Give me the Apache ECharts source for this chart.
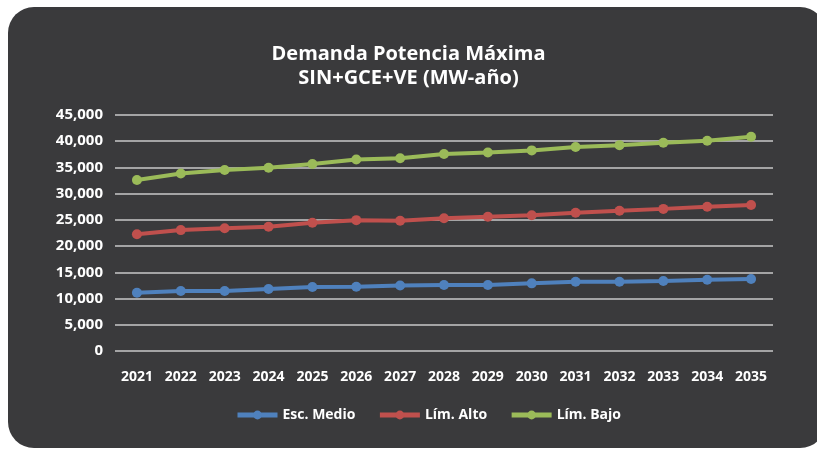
<!DOCTYPE html>
<html>
<head>
<meta charset="utf-8">
<script src="https://cdn.jsdelivr.net/npm/echarts@6/dist/echarts.min.js"></script>
<style>
  html, body { margin: 0; padding: 0; background: #fff; overflow: hidden; }
  .panel {
    position: absolute; left: 8px; top: 7px; width: 818px; height: 441px;
    background: #3a3a3c; border-radius: 26px;
  }
  #chart { position: absolute; left: 0; top: 0; width: 817px; height: 449px; }
</style>
</head>
<body>
<div class="panel"></div>
<div id="chart"></div>
<script>
// años
const years = ['2021', '2022', '2023', '2024', '2025', '2026', '2027', '2028',
  '2029', '2030', '2031', '2032', '2033', '2034', '2035']

// MW-año
const escMedio = [11120, 11440, 11440, 11820, 12200, 12260, 12500, 12580,
  12580, 12900, 13200, 13200, 13350, 13600, 13730]
const limAlto = [22250, 23050, 23400, 23700, 24450, 24950, 24850, 25300,
  25600, 25900, 26370, 26750, 27100, 27500, 27840]
const limBajo = [32600, 33850, 34500, 34950, 35650, 36500, 36750, 37550,
  37850, 38250, 38900, 39250, 39700, 40100, 40850]

const yTicks = { min: 0, max: 45000, interval: 5000 }

const font = '"Open Sans", sans-serif'

function lineSeries(name, data, color) {
  return {
    name: name,
    type: 'line',
    data: data,
    symbol: 'circle',
    symbolSize: 10,
    color: color,
    lineStyle: { width: 4, color: color },
    itemStyle: { color: color }
  }
}

const myChart = echarts.init(document.getElementById('chart'), null, { renderer: 'canvas' })
const option = {
  backgroundColor: 'transparent',
  animation: false,
  title: {
    text: 'Demanda Potencia Máxima\nSIN+GCE+VE (MW-año)',
    left: 'center',
    top: 37,
    textStyle: {
      color: '#ffffff',
      fontFamily: font,
      fontWeight: 'bold',
      fontSize: 20,
      lineHeight: 24
    }
  },
  legend: {
    bottom: 22,
    left: 230,
    itemWidth: 40,
    itemHeight: 11,
    itemGap: 22,
    lineStyle: { width: 5 },
    textStyle: { color: '#ffffff', fontFamily: font, fontWeight: 'bold', fontSize: 14 },
    data: ['Esc. Medio', 'Lím. Alto', 'Lím. Bajo']
  },
  grid: { left: 115, right: 44, top: 115, bottom: 98, containLabel: false },
  xAxis: {
    type: 'category',
    data: years,
    boundaryGap: true,
    axisLine: { show: false },
    axisTick: { show: false },
    axisLabel: {
      color: '#ffffff', fontFamily: font, fontWeight: 'bold', fontSize: 14,
      margin: 19, interval: 0
    }
  },
  yAxis: {
    type: 'value',
    min: yTicks.min,
    max: yTicks.max,
    interval: yTicks.interval,
    axisLine: { show: false },
    axisTick: { show: false },
    splitLine: { lineStyle: { color: '#c8c8c8', width: 1.5 } },
    axisLabel: {
      color: '#ffffff', fontFamily: font, fontWeight: 'bold', fontSize: 15,
      margin: 12,
      formatter: v => v.toLocaleString('en-US')
    }
  },
  series: [
    lineSeries('Esc. Medio', escMedio, '#4f81bd'),
    lineSeries('Lím. Alto', limAlto, '#c0504d'),
    lineSeries('Lím. Bajo', limBajo, '#9bbb59')
  ]
}
myChart.setOption(option)
</script>
</body>
</html>
